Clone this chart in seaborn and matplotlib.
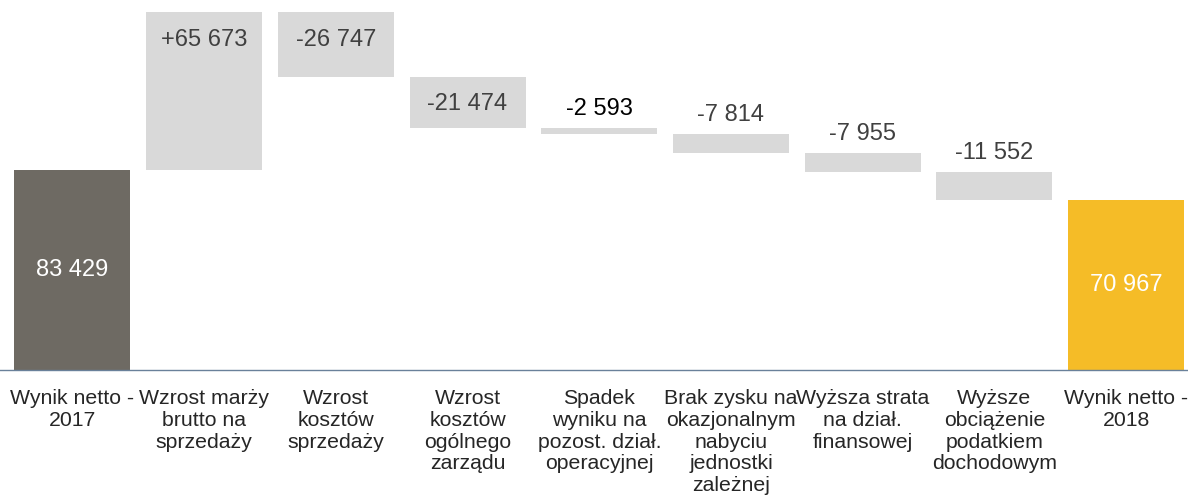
import numpy as np
import pandas as pd
import matplotlib
matplotlib.use("Agg")
import matplotlib.pyplot as plt
import seaborn as sns

categories = [
    "Wynik netto -\n2017",
    "Wzrost marży\nbrutto na\nsprzedaży",
    "Wzrost\nkosztów\nsprzedaży",
    "Wzrost\nkosztów\nogólnego\nzarządu",
    "Spadek\nwyniku na\npozost. dział.\noperacyjnej",
    "Brak zysku na\nokazjonalnym\nnabyciu\njednostki\nzależnej",
    "Wyższa strata\nna dział.\nfinansowej",
    "Wyższe\nobciążenie\npodatkiem\ndochodowym",
    "Wynik netto -\n2018",
]
changes = [83429, 65673, -26747, -21474, -2593, -7814, -7955, -11552, 70967]
kinds = ["total", "delta", "delta", "delta", "delta", "delta", "delta", "delta", "total"]
labels = ["83 429", "+65 673", "-26 747", "-21 474", "-2 593", "-7 814", "-7 955", "-11 552", "70 967"]

# waterfall geometry
bottoms, heights = [], []
running = 0
for v, k in zip(changes, kinds):
    if k == "total":
        bottoms.append(0)
        heights.append(v)
        running = v
    else:
        new = running + v
        bottoms.append(min(running, new))
        heights.append(abs(v))
        running = new
bottoms = np.array(bottoms)
heights = np.array(heights)
tops = bottoms + heights

df = pd.DataFrame({"cat": categories, "h": heights})

bar_colors = ["#6E6A63"] + ["#D9D9D9"] * 7 + ["#F5BC27"]
text_colors = ["white", "#404040", "#404040", "#404040", "black", "#404040", "#404040", "#404040", "white"]

sns.set_style("white")
plt.rcParams["font.family"] = ["Liberation Sans", "DejaVu Sans"]

fig = plt.figure(figsize=(11.88, 5.03), dpi=100)
ax = fig.add_axes([0.0, 0.2644, 1.0, 0.7356])

sns.barplot(data=df, x="cat", y="h", bottom=bottoms, color="#D9D9D9",
            width=0.88, errorbar=None, ax=ax)
for p, c in zip(ax.patches, bar_colors):
    p.set_facecolor(c)
    p.set_edgecolor("none")

ax.set_xlim(-0.55, 8.47)
ax.set_ylim(0, 154300)

px = ax.transData.transform((0, 1000))[1] - ax.transData.transform((0, 0))[1]
for i, (lab, k) in enumerate(zip(labels, kinds)):
    if k == "total":
        ax.text(i, tops[i] / 2, lab, ha="center", va="center", fontsize=17, color=text_colors[i])
    elif heights[i] / 1000 * px > 45:
        ax.annotate(lab, (i, tops[i]), xytext=(0, -20), textcoords="offset points",
                    ha="center", va="center", fontsize=17, color=text_colors[i])
    else:
        ax.annotate(lab, (i, tops[i]), xytext=(0, 14), textcoords="offset points",
                    ha="center", va="center", fontsize=17, color=text_colors[i])

sns.despine(ax=ax, left=True, top=True, right=True)
ax.spines["bottom"].set_color("#6A819A")
ax.spines["bottom"].set_linewidth(1)
ax.set_yticks([])
ax.set_xlabel("")
ax.set_ylabel("")
ax.tick_params(axis="x", length=0, pad=14)
for t in ax.get_xticklabels():
    t.set_fontsize(15.3)
    t.set_linespacing(1.17)
    t.set_verticalalignment("top")

fig.savefig("out.png", dpi=100)
